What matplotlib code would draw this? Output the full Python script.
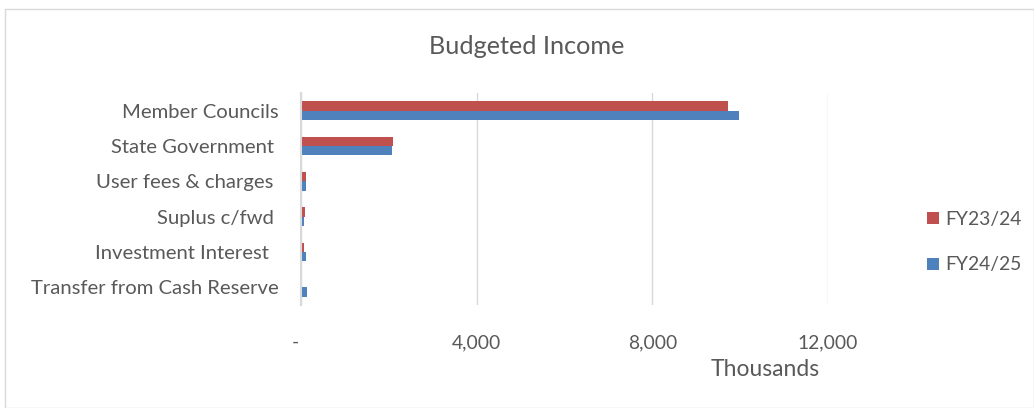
import numpy as np
import matplotlib
matplotlib.use("Agg")
import matplotlib.pyplot as plt
from matplotlib.patches import Rectangle

plt.rcParams['font.family'] = ['Lato', 'DejaVu Sans']

categories = ["Member Councils", "State Government ", "User fees & charges ",
              "Suplus c/fwd ", "Investment Interest  ", "Transfer from Cash Reserve"]
fy2324 = [9720, 2090, 105, 90, 70, 30]
fy2425 = [9970, 2075, 110, 60, 105, 130]
ticks = [0, 4000, 8000, 12000]
tick_labels = ["-  ", "4,000", "8,000", "12,000"]

red = "#C0504D"
blue = "#4F81BD"
txt = "#595959"

fig = plt.figure(figsize=(10.34, 4.08), dpi=100)
fig.patches.append(Rectangle((5 / 1034, 0), 1 - 5 / 1034, 1 - 9 / 408, transform=fig.transFigure,
                             fill=False, edgecolor="#D9D9D9", linewidth=1))

ax = fig.add_axes([301 / 1034, 1 - 305 / 408, 527 / 1034, 212 / 408])
y = np.arange(len(categories))
h = 0.26
ax.barh(y - h / 2, fy2324, height=h, color=red, label="FY23/24")
ax.barh(y + h / 2, fy2425, height=h, color=blue, label="FY24/25")

ax.set_ylim(len(categories) - 0.5, -0.5)
ax.set_xlim(0, 12000)
ax.set_yticks(y)
ax.set_yticklabels(categories, fontsize=14.6, color=txt)
ax.set_xticks(ticks)
ax.set_xticklabels(tick_labels, fontsize=13.9, color=txt)
ax.tick_params(axis="y", length=0, pad=16)
ax.tick_params(axis="x", length=0, pad=21)
ax.grid(axis="x", color="#D9D9D9", linewidth=1)
ax.set_axisbelow(True)
for s in ["top", "right", "bottom"]:
    ax.spines[s].set_visible(False)
ax.spines["left"].set_color("#D9D9D9")
ax.spines["left"].set_linewidth(1.5)

fig.text(527 / 1034, 1 - 46 / 408, "Budgeted Income", fontsize=18.2, color=txt, ha="center", va="center")
fig.text(765 / 1034, 1 - 370 / 408, "Thousands", fontsize=16.5, color=txt, ha="center", va="center")

fig.legend(loc="center left", bbox_to_anchor=(910 / 1034, 1 - 242 / 408), frameon=False,
           fontsize=13.9, labelcolor=txt, handlelength=0.6, handleheight=0.6,
           handletextpad=0.35, labelspacing=1.5)

fig.savefig("out.png", dpi=100)
